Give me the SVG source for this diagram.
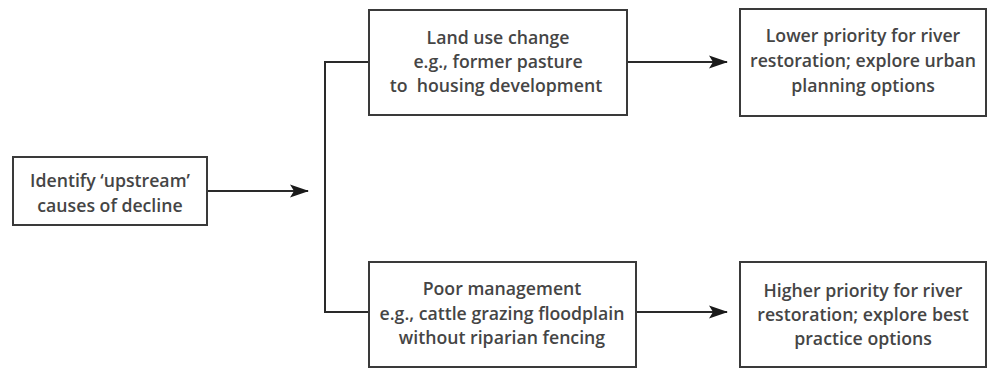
<svg xmlns="http://www.w3.org/2000/svg" width="994" height="371" viewBox="0 0 994 371">
<style>
.box{fill:#fff;stroke:#3a3a3a;stroke-width:2}
.t{font-family:"Open Sans","Liberation Sans",sans-serif;font-size:17.7px;font-weight:600;fill:#454545;text-anchor:middle;white-space:pre}
.c{fill:none;stroke:#2a2a2a;stroke-width:2}
</style>
<defs>
<marker id="arr" markerWidth="20" markerHeight="14" refX="18" refY="7" orient="auto" markerUnits="userSpaceOnUse">
<path d="M0,0.5 L19,7 L0,13.5 L4,7 Z" fill="#1a1a1a"/>
</marker>
</defs>
<g id="connectors">
<line class="c" x1="207" y1="191" x2="308" y2="191" marker-end="url(#arr)"/>
<polyline class="c" points="369,62 325,62 325,312 369,312"/>
<line class="c" x1="627" y1="62" x2="727" y2="62" marker-end="url(#arr)"/>
<line class="c" x1="636" y1="312" x2="727" y2="312" marker-end="url(#arr)"/>
</g>
<g id="identify">
<rect class="box" x="13" y="157" width="194" height="68"/>
<text class="t" x="110" y="187">Identify ‘upstream’</text>
<text class="t" x="110" y="212">causes of decline</text>
</g>
<g id="landuse">
<rect class="box" x="369" y="10" width="258" height="105"/>
<text class="t" x="498" y="44">Land use change</text>
<text class="t" x="498" y="68">e.g., former pasture</text>
<text class="t" x="496" y="92" xml:space="preserve">to  housing development</text>
</g>
<g id="poormgmt">
<rect class="box" x="369" y="262" width="267" height="105"/>
<text class="t" x="502" y="295">Poor management</text>
<text class="t" x="502" y="320">e.g., cattle grazing floodplain</text>
<text class="t" x="502" y="344">without riparian fencing</text>
</g>
<g id="lower">
<rect class="box" x="740" y="9" width="246" height="107"/>
<text class="t" x="863" y="42">Lower priority for river</text>
<text class="t" x="863" y="67">restoration; explore urban</text>
<text class="t" x="863" y="92">planning options</text>
</g>
<g id="higher">
<rect class="box" x="740" y="262" width="246" height="105"/>
<text class="t" x="863" y="297">Higher priority for river</text>
<text class="t" x="863" y="321">restoration; explore best</text>
<text class="t" x="863" y="345">practice options</text>
</g>
</svg>
